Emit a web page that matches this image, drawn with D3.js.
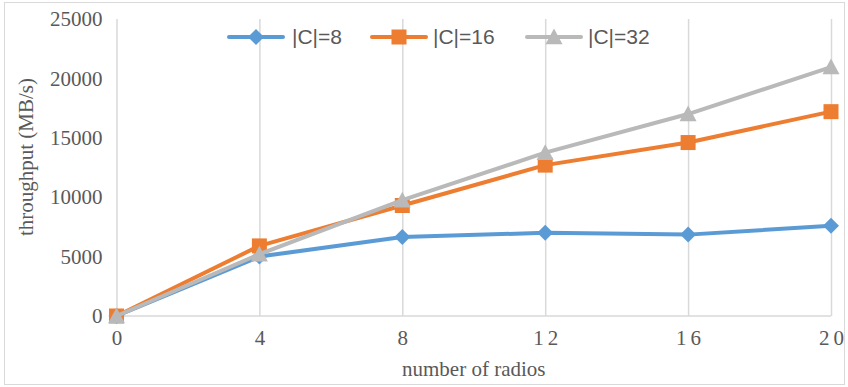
<!DOCTYPE html>
<html>
<head>
<meta charset="utf-8">
<script src="https://cdn.jsdelivr.net/npm/d3@7/dist/d3.min.js"></script>
<style>
  html, body { margin: 0; padding: 0; background: #fff; }
  svg { display: block; }
</style>
</head>
<body>
<svg id="chart" width="848" height="387"></svg>
<script>
// Throughput vs. number of radios for three channel-set sizes
const radios = [0, 4, 8, 12, 16, 20];
const c8  = [0, 5000, 6650, 7000, 6850, 7600];
const c16 = [0, 5900, 9300, 12700, 14600, 17200];
const c32 = [0, 5200, 9750, 13750, 17000, 20950];
const seriesNames = ["|C|=8", "|C|=16", "|C|=32"];
const yTicks = [0, 5000, 10000, 15000, 20000, 25000];

const series = [
  { name: seriesNames[0], values: c8,  color: "#5B9BD5", marker: "diamond" },
  { name: seriesNames[1], values: c16, color: "#ED7D31", marker: "square" },
  { name: seriesNames[2], values: c32, color: "#B9B9B9", marker: "triangle" }
];

const svg = d3.select("#chart");
const plot = { left: 116.5, right: 831, top: 19, bottom: 316 };

// outer frame
svg.append("rect")
  .attr("x", 4.5).attr("y", 2.5)
  .attr("width", 840).attr("height", 382)
  .attr("fill", "#fff").attr("stroke", "#D9D9D9").attr("stroke-width", 1);

const x = d3.scaleLinear().domain([0, 20]).range([plot.left, plot.right]);
const y = d3.scaleLinear().domain([0, 25000]).range([plot.bottom, plot.top]);

// vertical gridlines at each x tick
svg.append("g")
  .attr("transform", `translate(0,${plot.bottom})`)
  .call(d3.axisBottom(x).tickValues(radios).tickSize(-(plot.bottom - plot.top)).tickFormat(""))
  .call(g => g.select(".domain").remove())
  .call(g => g.selectAll(".tick line").attr("stroke", "#D9D9D9").attr("stroke-width", 1.5));

// baseline
svg.append("line")
  .attr("x1", plot.left).attr("x2", plot.right)
  .attr("y1", plot.bottom).attr("y2", plot.bottom)
  .attr("stroke", "#D9D9D9").attr("stroke-width", 1.5);

const tickFont = "'Liberation Serif', 'Times New Roman', serif";

// x tick labels
const xAxis = svg.append("g")
  .attr("transform", `translate(0,${plot.bottom})`)
  .call(d3.axisBottom(x).tickValues(radios).tickSize(0).tickPadding(14).tickFormat(d3.format("d")));
xAxis.select(".domain").remove();
xAxis.selectAll("text")
  .attr("font-family", tickFont).attr("font-size", 21)
  .attr("fill", "#595959")
  .attr("letter-spacing", d => d >= 10 ? 4 : 0)
  .attr("dx", d => d >= 10 ? 2 : 0);

// y tick labels
const yAxis = svg.append("g")
  .attr("transform", `translate(${plot.left},0)`)
  .call(d3.axisLeft(y).tickValues(yTicks).tickSize(0).tickPadding(14).tickFormat(d3.format("d")));
yAxis.select(".domain").remove();
yAxis.selectAll("text")
  .attr("font-family", tickFont).attr("font-size", 21)
  .attr("fill", "#595959");

// axis titles
svg.append("text")
  .attr("x", (plot.left + plot.right) / 2).attr("y", 376)
  .attr("text-anchor", "middle")
  .attr("font-family", tickFont).attr("font-size", 21)
  .attr("fill", "#595959")
  .text("number of radios");

svg.append("text")
  .attr("transform", `translate(33,157) rotate(-90)`)
  .attr("text-anchor", "middle")
  .attr("font-family", tickFont).attr("font-size", 21)
  .attr("fill", "#595959")
  .text("throughput (MB/s)");

// marker shapes
function markerPath(type, cx, cy) {
  if (type === "diamond") {
    const r = 8;
    return `M${cx},${cy - r}L${cx + r},${cy}L${cx},${cy + r}L${cx - r},${cy}Z`;
  }
  if (type === "square") {
    const r = 7.5;
    return `M${cx - r},${cy - r}H${cx + r}V${cy + r}H${cx - r}Z`;
  }
  const r = 8.5;
  return `M${cx},${cy - r}L${cx + r},${cy + r * 0.85}L${cx - r},${cy + r * 0.85}Z`;
}

const line = d3.line().x((d, i) => x(radios[i])).y(d => y(d));

series.forEach(s => {
  const g = svg.append("g");
  g.append("path")
    .attr("d", line(s.values))
    .attr("fill", "none")
    .attr("stroke", s.color)
    .attr("stroke-width", 4)
    .attr("stroke-linejoin", "round")
    .attr("stroke-linecap", "round");
  g.selectAll("path.marker")
    .data(s.values)
    .join("path")
    .attr("class", "marker")
    .attr("d", (d, i) => markerPath(s.marker, x(radios[i]), y(d)))
    .attr("fill", s.color);
});

// legend
const legendItems = [
  { lx: 229, tx: 292 },
  { lx: 372, tx: 433 },
  { lx: 527, tx: 588 }
];
const ly = 37;
series.forEach((s, i) => {
  const it = legendItems[i];
  svg.append("line")
    .attr("x1", it.lx).attr("x2", it.lx + 54)
    .attr("y1", ly).attr("y2", ly)
    .attr("stroke", s.color).attr("stroke-width", 4)
    .attr("stroke-linecap", "round");
  svg.append("path")
    .attr("d", markerPath(s.marker, it.lx + 27, ly))
    .attr("fill", s.color);
  svg.append("text")
    .attr("x", it.tx).attr("y", ly)
    .attr("dy", "0.35em")
    .attr("font-family", "'Liberation Sans', Arial, sans-serif")
    .attr("font-size", 21)
    .attr("fill", "#595959")
    .text(s.name);
});
</script>
</body>
</html>
